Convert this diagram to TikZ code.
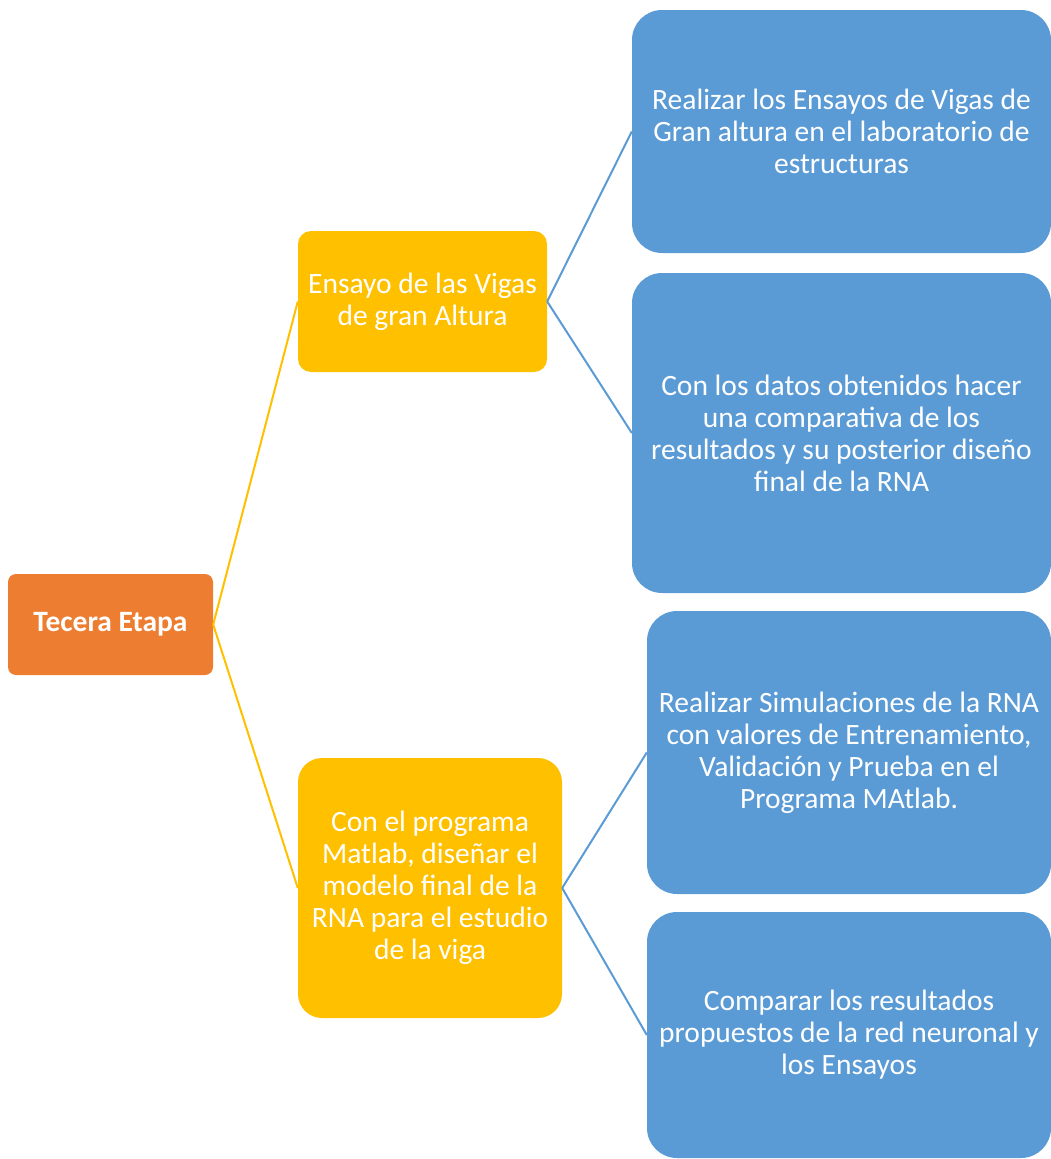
\documentclass[tikz,border=0pt]{standalone}
\usepackage{fontspec}
\setmainfont{Carlito}
\definecolor{etapa}{RGB}{237,125,49}
\definecolor{gold}{RGB}{255,192,0}
\definecolor{steel}{RGB}{91,155,213}
\usetikzlibrary{positioning}

\begin{document}
\begin{tikzpicture}[x=1pt,y=-1pt,
    box/.style={inner sep=0pt,align=center,text=white,font=\fontsize{29.5}{32}\selectfont},
    link/.style={line width=2pt}]
    \useasboundingbox (0,0) rectangle (1051,1159);

    % Stage
    \node[box,fill=etapa,rounded corners=8pt,minimum width=205pt,minimum height=101pt,
          font=\fontsize{29.5}{32}\selectfont\bfseries] (etapa) at (110.5,624.5) {Tecera Etapa};

    % Second level
    \node[box,fill=gold,rounded corners=13pt,minimum width=249pt,minimum height=141pt] (ensayo) at (422.5,301.5)
        {Ensayo de las Vigas\\de gran Altura};
    \node[box,fill=gold,rounded corners=24pt,minimum width=264pt,minimum height=260pt] (matlab) at (430,888)
        {Con el programa\\Matlab, diseñar el\\modelo final de la\\RNA para el estudio\\de la viga};

    % Third level
    \node[box,fill=steel,rounded corners=30pt,minimum width=419pt,minimum height=243pt] (lab) at (841.5,131.5)
        {Realizar los Ensayos de Vigas de\\Gran altura en el laboratorio de\\estructuras};
    \node[box,fill=steel,rounded corners=30pt,minimum width=419pt,minimum height=320pt] (datos) at (841.5,433)
        {Con los datos obtenidos hacer\\una comparativa de los\\resultados y su posterior diseño\\final de la RNA};
    \node[box,fill=steel,rounded corners=30pt,minimum width=404pt,minimum height=283pt] (simul) at (849,752.5)
        {Realizar Simulaciones de la RNA\\con valores de Entrenamiento,\\Validación y Prueba en el\\Programa MAtlab.};
    \node[box,fill=steel,rounded corners=30pt,minimum width=404pt,minimum height=246pt] (compara) at (849,1035)
        {Comparar los resultados\\propuestos de la red neuronal y\\los Ensayos};

    % Connectors
    \draw[link,gold] (etapa.east) -- (ensayo.west);
    \draw[link,gold] (etapa.east) -- (matlab.west);
    \draw[link,steel] (ensayo.east) -- (lab.west);
    \draw[link,steel] (ensayo.east) -- (datos.west);
    \draw[link,steel] (matlab.east) -- (simul.west);
    \draw[link,steel] (matlab.east) -- (compara.west);
\end{tikzpicture}
\end{document}
